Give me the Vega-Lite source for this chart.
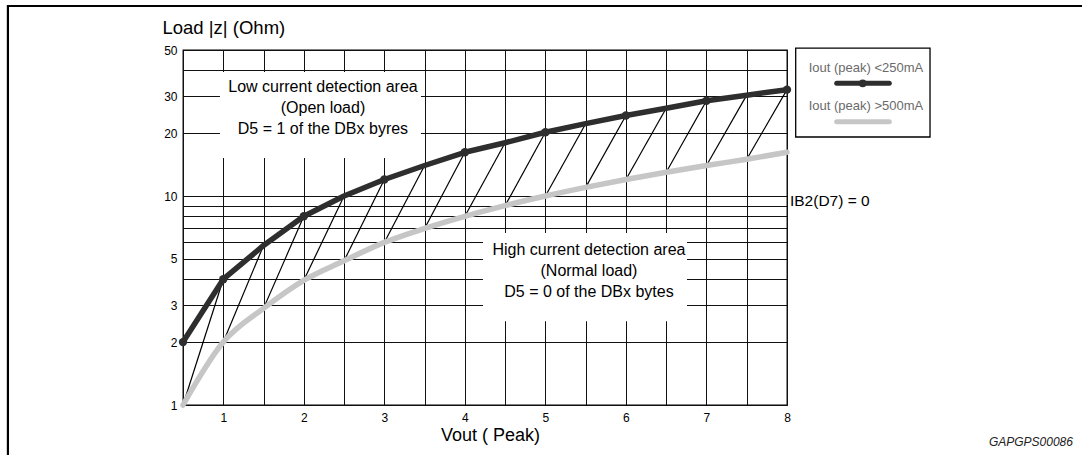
{
  "$schema": "https://vega.github.io/schema/vega-lite/v6.json",
  "width": 604,
  "height": 355,
  "autosize": {"type": "none"},
  "padding": {"left": 183, "top": 50, "right": 295, "bottom": 50},
  "background": "white",
  "config": {
    "font": "Liberation Sans",
    "view": {"stroke": "#000", "strokeWidth": 1.3}
  },
  "data": {"values": [{"note": "annotation"}]},
  "datasets": {
    "dark": [
      {"v": 0.5, "z": 2}, {"v": 1, "z": 4}, {"v": 1.5, "z": 5.8}, {"v": 2, "z": 8},
      {"v": 2.5, "z": 10}, {"v": 3, "z": 12}, {"v": 3.5, "z": 14}, {"v": 4, "z": 16.2},
      {"v": 4.5, "z": 18}, {"v": 5, "z": 20.2}, {"v": 5.5, "z": 22.2}, {"v": 6, "z": 24.3},
      {"v": 6.5, "z": 26.3}, {"v": 7, "z": 28.6}, {"v": 7.5, "z": 30.4}, {"v": 8, "z": 32.3}
    ],
    "gray": [
      {"v": 0.5, "z": 1}, {"v": 1, "z": 2}, {"v": 1.5, "z": 2.9}, {"v": 2, "z": 3.95},
      {"v": 2.5, "z": 4.9}, {"v": 3, "z": 6}, {"v": 3.5, "z": 7}, {"v": 4, "z": 8},
      {"v": 4.5, "z": 9}, {"v": 5, "z": 10}, {"v": 5.5, "z": 11}, {"v": 6, "z": 12},
      {"v": 6.5, "z": 13}, {"v": 7, "z": 14}, {"v": 7.5, "z": 15}, {"v": 8, "z": 16.2}
    ],
    "hatch": [
      {"v0": 0.5, "z0": 1, "v1": 1, "z1": 4},
      {"v0": 1, "z0": 2, "v1": 1.5, "z1": 5.8},
      {"v0": 1.5, "z0": 2.9, "v1": 2, "z1": 8},
      {"v0": 2, "z0": 3.95, "v1": 2.5, "z1": 10},
      {"v0": 2.5, "z0": 4.9, "v1": 3, "z1": 12},
      {"v0": 3, "z0": 6, "v1": 3.5, "z1": 14},
      {"v0": 3.5, "z0": 7, "v1": 4, "z1": 16.2},
      {"v0": 4, "z0": 8, "v1": 4.5, "z1": 18},
      {"v0": 4.5, "z0": 9, "v1": 5, "z1": 20.2},
      {"v0": 5, "z0": 10, "v1": 5.5, "z1": 22.2},
      {"v0": 5.5, "z0": 11, "v1": 6, "z1": 24.3},
      {"v0": 6, "z0": 12, "v1": 6.5, "z1": 26.3},
      {"v0": 6.5, "z0": 13, "v1": 7, "z1": 28.6},
      {"v0": 7, "z0": 14, "v1": 7.5, "z1": 30.4},
      {"v0": 7.5, "z0": 15, "v1": 8, "z1": 32.3}
    ]
  },
  "layer": [
    {
      "data": {"name": "hatch"},
      "mark": {"type": "rule", "color": "#000", "strokeWidth": 1.2},
      "encoding": {
        "x": {
          "field": "v0", "type": "quantitative",
          "scale": {"domain": [0.5, 8], "nice": false, "zero": false},
          "axis": {
            "values": [0.5, 1, 1.5, 2, 2.5, 3, 3.5, 4, 4.5, 5, 5.5, 6, 6.5, 7, 7.5, 8],
            "format": "~g",
            "labelExpr": "datum.value % 1 == 0 ? datum.label : ''",
            "domain": false, "ticks": false, "tickSize": 0,
            "grid": true, "gridColor": "#111", "gridWidth": 1, "gridOpacity": 1,
            "labelFontSize": 12, "labelColor": "#000", "labelPadding": 7, "labelFlush": false,
            "title": "Vout ( Peak)", "titleFontSize": 18, "titleFontWeight": "normal",
            "titleColor": "#000", "titlePadding": 3, "titleX": 307, "titleAlign": "center"
          }
        },
        "x2": {"field": "v1"},
        "y": {
          "field": "z0", "type": "quantitative",
          "scale": {"type": "log", "domain": [1, 50], "nice": false},
          "axis": {
            "values": [1, 2, 3, 4, 5, 6, 7, 8, 9, 10, 20, 30, 40, 50],
            "format": "~g",
            "labelExpr": "indexof([1, 2, 3, 5, 10, 20, 30, 50], datum.value) >= 0 ? datum.label : ''",
            "domain": false, "ticks": false, "tickSize": 0,
            "grid": true, "gridColor": "#111", "gridWidth": 1, "gridOpacity": 1,
            "labelFontSize": 12, "labelColor": "#000", "labelPadding": 6, "labelFlush": false,
            "title": "Load |z| (Ohm)", "titleFontSize": 18.5, "titleFontWeight": "normal",
            "titleColor": "#000", "titleAngle": 0, "titleAlign": "left",
            "titleBaseline": "middle", "titleX": -21, "titleY": -23
          }
        },
        "y2": {"field": "z1"}
      }
    },
    {
      "mark": {"type": "rect", "fill": "white", "stroke": null},
      "encoding": {
        "x": {"datum": 0.959, "type": "quantitative"},
        "x2": {"datum": 3.455},
        "y": {"datum": 39.25, "type": "quantitative"},
        "y2": {"datum": 15.2}
      }
    },
    {
      "mark": {"type": "rect", "fill": "white", "stroke": null},
      "encoding": {
        "x": {"datum": 4.225, "type": "quantitative"},
        "x2": {"datum": 6.758},
        "y": {"datum": 6.65, "type": "quantitative"},
        "y2": {"datum": 2.52}
      }
    },
    {
      "data": {"name": "gray"},
      "mark": {"type": "line", "color": "#c6c6c6", "strokeWidth": 5.5, "interpolate": "monotone", "strokeCap": "round"},
      "encoding": {
        "x": {"field": "v", "type": "quantitative"},
        "y": {"field": "z", "type": "quantitative"}
      }
    },
    {
      "data": {"name": "dark"},
      "mark": {"type": "line", "color": "#2e2e2e", "strokeWidth": 5.5, "strokeJoin": "round"},
      "encoding": {
        "x": {"field": "v", "type": "quantitative"},
        "y": {"field": "z", "type": "quantitative"}
      }
    },
    {
      "data": {"name": "dark"},
      "transform": [{"filter": "datum.v % 1 == 0 || datum.v == 0.5"}],
      "mark": {"type": "point", "filled": true, "color": "#2e2e2e", "size": 70, "opacity": 1},
      "encoding": {
        "x": {"field": "v", "type": "quantitative"},
        "y": {"field": "z", "type": "quantitative"}
      }
    },
    {
      "mark": {"type": "text", "text": ["Low current detection area", "(Open load)", "D5 = 1 of the DBx byres"], "fontSize": 16, "lineHeight": 21, "align": "center", "baseline": "middle", "color": "#000"},
      "encoding": {
        "x": {"datum": 2.238, "type": "quantitative"},
        "y": {"datum": 33.37, "type": "quantitative"}
      }
    },
    {
      "mark": {"type": "text", "text": ["High current detection area", "(Normal load)", "D5 = 0 of the DBx bytes"], "fontSize": 16, "lineHeight": 21, "align": "center", "baseline": "middle", "color": "#000"},
      "encoding": {
        "x": {"datum": 5.541, "type": "quantitative"},
        "y": {"datum": 5.515, "type": "quantitative"}
      }
    },
    {
      "mark": {"type": "text", "text": "IB2(D7) = 0", "fontSize": 15.5, "align": "left", "baseline": "middle", "color": "#000"},
      "encoding": {
        "x": {"datum": 8.037, "type": "quantitative"},
        "y": {"datum": 9.5, "type": "quantitative"}
      }
    },
    {
      "mark": {"type": "rect", "fill": "white", "stroke": "#000", "strokeWidth": 1.3},
      "encoding": {
        "x": {"datum": 8.108, "type": "quantitative"},
        "x2": {"datum": 9.776},
        "y": {"datum": 51.1, "type": "quantitative"},
        "y2": {"datum": 19.17}
      }
    },
    {
      "mark": {"type": "text", "text": "Iout (peak) <250mA", "fontSize": 13, "align": "center", "baseline": "middle", "color": "#6a6a6a"},
      "encoding": {
        "x": {"datum": 8.981, "type": "quantitative"},
        "y": {"datum": 40.87, "type": "quantitative"}
      }
    },
    {
      "mark": {"type": "text", "text": "Iout (peak) >500mA", "fontSize": 13, "align": "center", "baseline": "middle", "color": "#6a6a6a"},
      "encoding": {
        "x": {"datum": 8.981, "type": "quantitative"},
        "y": {"datum": 27.06, "type": "quantitative"}
      }
    },
    {
      "mark": {"type": "rule", "color": "#2e2e2e", "strokeWidth": 5, "strokeCap": "round"},
      "encoding": {
        "x": {"datum": 8.617, "type": "quantitative"},
        "x2": {"datum": 9.27},
        "y": {"datum": 34.64, "type": "quantitative"}
      }
    },
    {
      "mark": {"type": "point", "filled": true, "color": "#2e2e2e", "size": 60, "opacity": 1},
      "encoding": {
        "x": {"datum": 8.94, "type": "quantitative"},
        "y": {"datum": 34.64, "type": "quantitative"}
      }
    },
    {
      "mark": {"type": "rule", "color": "#c6c6c6", "strokeWidth": 5, "strokeCap": "round"},
      "encoding": {
        "x": {"datum": 8.617, "type": "quantitative"},
        "x2": {"datum": 9.27},
        "y": {"datum": 22.69, "type": "quantitative"}
      }
    },
    {
      "mark": {"type": "text", "text": "GAPGPS00086", "fontSize": 12, "fontStyle": "italic", "align": "right", "baseline": "middle", "color": "#222"},
      "encoding": {
        "x": {"datum": 11.551, "type": "quantitative"},
        "y": {"datum": 0.667, "type": "quantitative"}
      }
    },
    {
      "mark": {"type": "rect", "fill": null, "stroke": "#000", "strokeWidth": 2.2},
      "encoding": {
        "x": {"datum": -1.674, "type": "quantitative"},
        "x2": {"datum": 20},
        "y": {"datum": 81.2, "type": "quantitative"},
        "y2": {"datum": 0.3}
      }
    }
  ]
}
